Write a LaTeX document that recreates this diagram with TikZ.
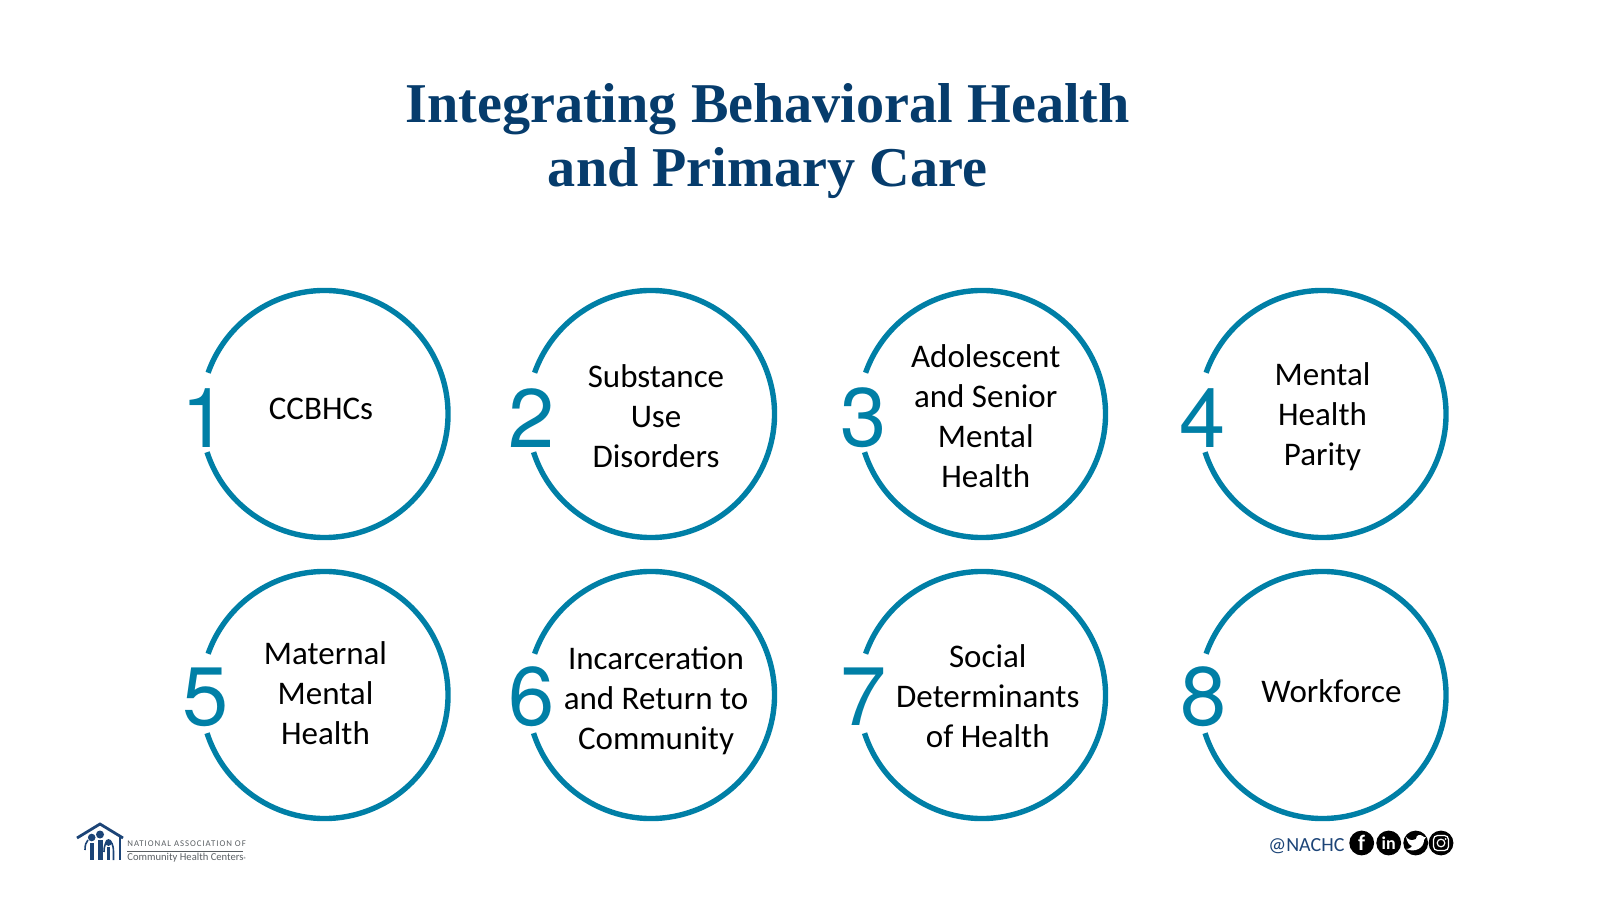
\documentclass[tikz,border=0pt]{standalone}
\usepackage{fontspec}
\setmainfont{Carlito}
\newfontfamily\titlefont{Liberation Serif}
\newfontfamily\numfont{TeX Gyre Heros}
\newfontfamily\logofont[LetterSpace=11]{Carlito}
\definecolor{ringblue}{HTML}{007FA6}
\definecolor{titleblue}{HTML}{063C6C}
\definecolor{logoblue}{HTML}{1C4477}
\definecolor{logogray}{HTML}{5A5F63}
\tikzset{
  ring/.style={draw=ringblue,line width=2.7pt},
  numlabel/.style={text=ringblue,font=\numfont\fontsize{41.5}{41.5}\selectfont,inner sep=0pt},
  topic/.style={align=center,inner sep=0pt,font=\fontsize{16.5}{20}\selectfont},
  roundicon/.style={circle,fill=black,minimum size=12.4pt,inner sep=0pt,text=white},
}
\begin{document}
\begin{tikzpicture}[x=0.5pt,y=0.5pt]
    \useasboundingbox (0,0) rectangle (1600,900);
    \node[text=titleblue,align=center,inner sep=0pt,font=\titlefont\bfseries\fontsize{28.1}{32}\selectfont] (title) at (767.5,759) {Integrating Behavioral Health\\and Primary Care};
    % rings, row one
    \draw[ring] (324.5,486)++(198:61.75pt) arc[start angle=198,end angle=520.5,radius=61.75pt];
    \draw[ring] (651,486)++(198:61.75pt) arc[start angle=198,end angle=520.5,radius=61.75pt];
    \draw[ring] (982,486)++(198:61.75pt) arc[start angle=198,end angle=520.5,radius=61.75pt];
    \draw[ring] (1322.5,486)++(198:61.75pt) arc[start angle=198,end angle=520.5,radius=61.75pt];
    % rings, row two
    \draw[ring] (324.5,205)++(198:61.75pt) arc[start angle=198,end angle=520.5,radius=61.75pt];
    \draw[ring] (651,205)++(198:61.75pt) arc[start angle=198,end angle=520.5,radius=61.75pt];
    \draw[ring] (982,205)++(198:61.75pt) arc[start angle=198,end angle=520.5,radius=61.75pt];
    \draw[ring] (1322.5,205)++(198:61.75pt) arc[start angle=198,end angle=520.5,radius=61.75pt];
    % numbers
    \node[numlabel] (numa) at (205,482) {1};
    \node[numlabel] (numb) at (532,482) {2};
    \node[numlabel] (numc) at (864,482) {3};
    \node[numlabel] (numd) at (1203,482) {4};
    \node[numlabel] (nume) at (206,203) {5};
    \node[numlabel] (numf) at (532,203) {6};
    \node[numlabel] (numg) at (864,203) {7};
    \node[numlabel] (numh) at (1204,203) {8};
    % topics
    \node[topic] (ccbhc) at (321,491) {CCBHCs};
    \node[topic] (substance) at (656,483.5) {Substance\\Use\\Disorders};
    \node[topic] (adolescent) at (985.7,483.5) {Adolescent\\and Senior\\Mental\\Health};
    \node[topic] (parity) at (1322.5,483.5) {Mental\\Health\\Parity};
    \node[topic] (maternal) at (325.5,207) {Maternal\\Mental\\Health};
    \node[topic] (incarceration) at (656,199) {Incarceration\\and Return to\\Community};
    \node[topic] (social) at (987.8,204) {Social\\Determinants\\of Health};
    \node[topic] (workforce) at (1331.5,209) {Workforce};
    % logo
    \draw[logoblue,line width=1.4pt,line join=miter] (77,62)--(100,76)--(123,62);
    \draw[logoblue,line width=1.4pt] (120,64)--(120,40);
    \fill[logoblue] (89.5,40) rectangle (94,57);
    \fill[logoblue] (97.5,40) rectangle (102.5,60);
    \fill[logoblue] (106.5,40) rectangle (110,53);
    \fill[logoblue] (91.7,62.5) circle[radius=1.9pt];
    \fill[logoblue] (100,65.5) circle[radius=2pt];
    \fill[logoblue] (108.5,57.5) circle[radius=1.7pt];
    \draw[logoblue,line width=0.8pt] (85,50) .. controls (85,55) and (86,58) .. (88,60);
    \draw[logoblue,line width=0.8pt] (104,48) .. controls (104,63) and (113.5,63) .. (113.5,48) -- (113.5,40);
    \draw[logogray,line width=0.3pt] (127,49)--(243,49);
    \node[text=logogray,anchor=west,inner sep=0pt,font=\logofont\fontsize{4.4}{5}\selectfont] (logoa) at (127,56) {NATIONAL ASSOCIATION OF};
    \node[text=logogray,anchor=west,inner sep=0pt,font=\fontsize{5.3}{6}\selectfont] (logob) at (127,42) {Community Health Centers\raisebox{-0.5pt}{\fontsize{3}{3}\selectfont®}};
    % handle and icons
    \node[text=logoblue,anchor=west,inner sep=0pt,font=\fontsize{10}{12}\selectfont] (handle) at (1268,54) {@NACHC};
    \node[roundicon,font=\bfseries\fontsize{11}{11}\selectfont] (facebook) at (1361.7,57) {f};
    \node[roundicon,font=\bfseries\fontsize{9}{9}\selectfont] (linkedin) at (1388.7,57) {in};
    \node[roundicon] (twitter) at (1415.7,57) {};
    \node[roundicon] (instagram) at (1441,57) {};
    \fill[white] (1406,63) .. controls (1411,58) and (1414,60) .. (1416,61) .. controls (1416,66) and (1421,66) .. (1424,63) -- (1426,63) -- (1424,60) .. controls (1424,52) and (1415,47) .. (1406,51) .. controls (1410,51) and (1411,53) .. (1412,54) .. controls (1409,55) and (1407,58) .. (1406,63);
    \draw[white,line width=0.6pt,rounded corners=2pt] (1433.5,49.5) rectangle (1448.5,64.5);
    \draw[white,line width=0.6pt] (1441,57) circle[radius=1.9pt];
    \fill[white] (1445.5,61) circle[radius=0.5pt];
\end{tikzpicture}
\end{document}
